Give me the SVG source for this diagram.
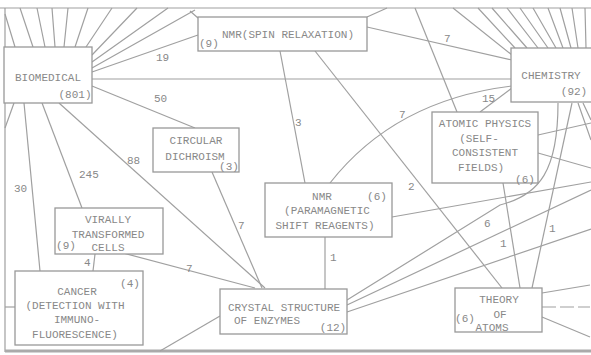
<svg xmlns="http://www.w3.org/2000/svg" width="591" height="355" viewBox="0 0 591 355">
<style>
.box{fill:#fff;stroke:#999;stroke-width:1.3}
.ln{fill:none;stroke:#a0a0a0;stroke-width:1.2}
.t{font-family:"Liberation Mono","DejaVu Sans Mono",monospace;font-size:11px;fill:#888;text-anchor:middle}
.l{font-family:"Liberation Mono","DejaVu Sans Mono",monospace;font-size:11px;fill:#888}
</style>
<rect width="591" height="355" fill="#fff"/>
<g id="connectors">
<path class="ln" d="M0,8H591M5,8V352"/>
<path d="M5,351H591" stroke="#aaa" stroke-width="3"/>
<!-- biomedical fan -->
<path class="ln" d="M5,14L15,47M20,8L33,47M37,8L45,47M52,8L55,47M68,8L64,47M88,8L75,47M112,8L86,47M137,8L92,55M168,8L92,62M195,10L92,68"/>
<!-- chemistry fan -->
<path class="ln" d="M453,8L512,55M478,8L515,48M492,8L527,48M507,8L538,48M520,8L548,48M533,8L556,48M548,8L563,48M560,8L571,48M572,8L578,48M585,8L586,48"/>
<path class="ln" d="M190,11L198,18M367,17L387,8"/>
<path class="ln" d="M92,79H512"/>
<path class="ln" d="M92,72L198,35"/>
<path class="ln" d="M92,86L195,128"/>
<path class="ln" d="M59,103L265,288"/>
<path class="ln" d="M42,103L82,208"/>
<path class="ln" d="M24,103L40,271"/>
<path class="ln" d="M14,103L5,128"/>
<path class="ln" d="M367,27L512,60"/>
<path class="ln" d="M415,8L457,112"/>
<path class="ln" d="M512,88L480,112"/>
<path class="ln" d="M280,51L305,183"/>
<path class="ln" d="M315,51L502,288"/>
<path class="ln" d="M330,183Q395,100 512,86"/>
<path class="ln" d="M558,103C558,170 540,195 500,205L347,300"/>
<path class="ln" d="M572,103L532,288"/>
<path class="ln" d="M578,103L591,140M583,103L591,120"/>
<path class="ln" d="M503,183L520,288"/>
<path class="ln" d="M538,135L591,123M538,153L591,168"/>
<path class="ln" d="M392,217L591,182"/>
<path class="ln" d="M347,305L591,190"/>
<path class="ln" d="M347,312L591,229"/>
<path class="ln" d="M542,293L590,285"/>
<path class="ln" d="M542,307L590,307" stroke-dasharray="14,4"/>
<path class="ln" d="M542,317L590,337"/>
<path class="ln" d="M212,172L262,288"/>
<path class="ln" d="M123,253L255,288"/>
<path class="ln" d="M325,237V289"/>
<path class="ln" d="M95,254L93,271"/>
<path class="ln" d="M5,307H15"/>
<path class="ln" d="M160,351L220,316"/>
<text class="l" x="156" y="61">19</text>
<text class="l" x="154" y="102">50</text>
<text class="l" x="127" y="164">88</text>
<text class="l" x="79" y="178">245</text>
<text class="l" x="14" y="192">30</text>
<text class="l" x="295" y="126">3</text>
<text class="l" x="444" y="42">7</text>
<text class="l" x="399" y="118">7</text>
<text class="l" x="482" y="102">15</text>
<text class="l" x="408" y="190">2</text>
<text class="l" x="484" y="227">6</text>
<text class="l" x="549" y="232">1</text>
<text class="l" x="500" y="247">1</text>
<text class="l" x="330" y="261">1</text>
<text class="l" x="238" y="229">7</text>
<text class="l" x="186" y="272">7</text>
<text class="l" x="84" y="266">4</text>
</g>
<g id="biomedical">
<rect class="box" x="4" y="47" width="88" height="56"/>
<text class="t" x="48" y="81">BIOMEDICAL</text>
<text class="t" x="75" y="98">(801)</text>
</g>
<g id="nmr-spin">
<rect class="box" x="198" y="17" width="169" height="34"/>
<text class="t" x="288" y="38">NMR(SPIN RELAXATION)</text>
<text class="l" x="199" y="47">(9)</text>
</g>
<g id="chemistry">
<rect class="box" x="511" y="48" width="90" height="54"/>
<text class="t" x="551" y="79">CHEMISTRY</text>
<text class="t" x="574" y="95">(92)</text>
</g>
<g id="circular">
<rect class="box" x="153" y="128" width="86" height="44"/>
<text class="t" x="196" y="144">CIRCULAR</text>
<text class="t" x="195" y="160">DICHROISM</text>
<text class="t" x="229" y="170">(3)</text>
</g>
<g id="atomic">
<rect class="box" x="432" y="112" width="106" height="71"/>
<text class="t" x="485" y="127">ATOMIC PHYSICS</text>
<text class="t" x="479" y="142">(SELF-</text>
<text class="t" x="485" y="156">CONSISTENT</text>
<text class="t" x="481" y="171">FIELDS)</text>
<text class="t" x="525" y="183">(6)</text>
</g>
<g id="nmr-para">
<rect class="box" x="265" y="183" width="127" height="54"/>
<text class="t" x="322" y="200">NMR</text>
<text class="t" x="377" y="200">(6)</text>
<text class="t" x="327" y="214">(PARAMAGNETIC</text>
<text class="t" x="325" y="229">SHIFT REAGENTS)</text>
</g>
<g id="virally">
<rect class="box" x="55" y="208" width="108" height="46"/>
<text class="t" x="108" y="223">VIRALLY</text>
<text class="t" x="108" y="238">TRANSFORMED</text>
<text class="t" x="108" y="251">CELLS</text>
<text class="t" x="66" y="249">(9)</text>
</g>
<g id="cancer">
<rect class="box" x="15" y="271" width="128" height="74"/>
<text class="t" x="130" y="287">(4)</text>
<text class="t" x="77" y="295">CANCER</text>
<text class="t" x="75" y="309">(DETECTION WITH</text>
<text class="t" x="77" y="323">IMMUNO-</text>
<text class="t" x="75" y="338">FLUORESCENCE)</text>
</g>
<g id="crystal">
<rect class="box" x="220" y="289" width="127" height="45"/>
<text class="t" x="284" y="311">CRYSTAL STRUCTURE</text>
<text class="t" x="267" y="324">OF ENZYMES</text>
<text class="t" x="333" y="331">(12)</text>
</g>
<g id="theory">
<rect class="box" x="455" y="288" width="87" height="44"/>
<text class="t" x="499" y="303">THEORY</text>
<text class="t" x="500" y="318">OF</text>
<text class="t" x="465" y="322">(6)</text>
<text class="t" x="492" y="331">ATOMS</text>
</g>
</svg>
